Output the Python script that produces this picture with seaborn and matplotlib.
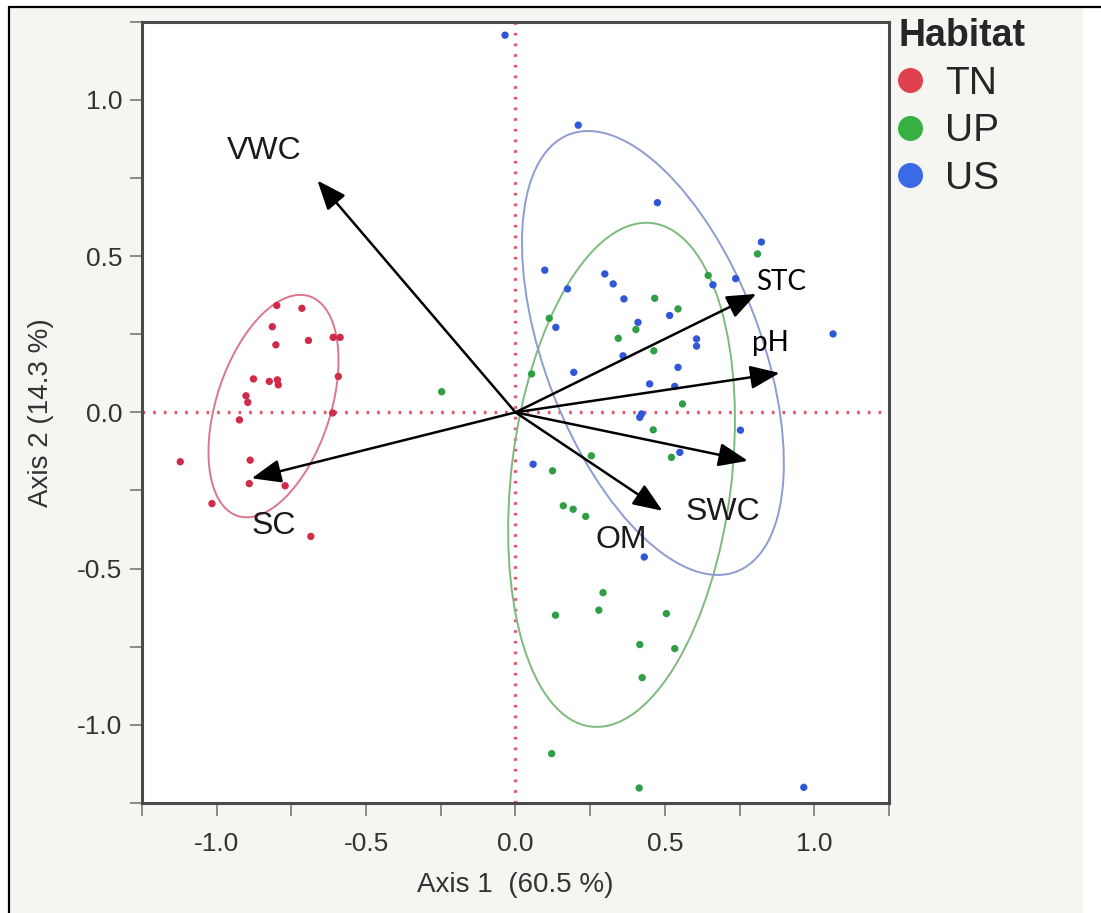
import numpy as np
import pandas as pd
import matplotlib.pyplot as plt
import seaborn as sns
from matplotlib.patches import Ellipse, Rectangle
from matplotlib.lines import Line2D
from matplotlib.ticker import MultipleLocator, FormatStrFormatter

"""
Scores read off the biplot (Axis 1, Axis 2)
"""
tn_x = [-0.799, -0.715, -0.814, -0.802, -0.693, -0.610, -0.587, -0.593, -0.877, -0.824, -0.797,
        -0.794, -0.902, -0.896, -0.612, -0.924, -1.122, -0.888, -0.891, -0.771, -1.016, -0.685]
tn_y = [0.342, 0.333, 0.274, 0.216, 0.230, 0.240, 0.240, 0.115, 0.107, 0.099, 0.104,
        0.088, 0.053, 0.032, -0.002, -0.024, -0.158, -0.153, -0.228, -0.235, -0.292, -0.397]

up_x = [0.810, 0.645, 0.466, 0.544, 0.113, 0.403, 0.344, 0.463, 0.054, 0.559, 0.461, 0.254, 0.522,
        0.124, 0.160, 0.193, 0.235, 0.293, 0.279, 0.134, 0.505, 0.416, 0.533, 0.424, 0.121, 0.414, -0.247]
up_y = [0.507, 0.438, 0.365, 0.331, 0.301, 0.265, 0.237, 0.197, 0.123, 0.027, -0.056, -0.139, -0.144,
        -0.187, -0.299, -0.310, -0.333, -0.577, -0.633, -0.649, -0.644, -0.743, -0.756, -0.849, -1.092, -1.202, 0.066]

us_x = [-0.035, 0.210, 0.475, 0.823, 0.098, 0.299, 0.737, 0.327, 0.174, 0.363, 0.661, 0.135, 0.410, 0.516,
        0.606, 0.606, 0.360, 0.195, 0.544, 0.449, 0.533, 0.422, 0.416, 1.063, 0.753, 0.059, 0.550, 0.431, 0.965]
us_y = [1.207, 0.919, 0.671, 0.545, 0.455, 0.443, 0.428, 0.411, 0.395, 0.363, 0.408, 0.272, 0.288, 0.310,
        0.235, 0.212, 0.181, 0.128, 0.144, 0.091, 0.083, -0.005, -0.016, 0.251, -0.057, -0.166, -0.128, -0.463, -1.200]

habitats = ['TN', 'UP', 'US']

# loadings (arrow tips)
variables = ['VWC', 'SC', 'STC', 'pH', 'SWC', 'OM']
load_x = [-0.663, -0.883, 0.806, 0.884, 0.778, 0.492]
load_y = [0.742, -0.211, 0.379, 0.126, -0.155, -0.315]

# density ellipses per habitat: centre, full axes, angle (deg)
ell_cx = [-0.81, 0.355, 0.46]
ell_cy = [0.02, -0.20, 0.19]
ell_w = [0.743, 1.624, 1.507]
ell_h = [0.380, 0.736, 0.718]
ell_ang = [70.6, 82.6, 112.3]

df = pd.DataFrame({
    'Axis 1': tn_x + up_x + us_x,
    'Axis 2': tn_y + up_y + us_y,
    'Habitat': ['TN'] * len(tn_x) + ['UP'] * len(up_x) + ['US'] * len(us_x),
})

point_colors = {'TN': '#d02c4a', 'UP': '#2f9e44', 'US': '#2f57d8'}
legend_colors = {'TN': '#e0414f', 'UP': '#36b041', 'US': '#3a6ae6'}
ell_colors = {'TN': '#d9788a', 'UP': '#7dbb7d', 'US': '#8d9bd0'}

sns.set_style('ticks')
plt.rcParams['font.family'] = ['Liberation Sans', 'DejaVu Sans']
plt.rcParams['axes.unicode_minus'] = False

fig = plt.figure(figsize=(11.01, 9.13), dpi=100)
fig.patch.set_facecolor('white')
# screenshot-like frame
fig.add_artist(Rectangle((9 / 1101, 0), (1083 - 9) / 1101, 1 - 7 / 913,
                         transform=fig.transFigure, facecolor='#f5f5f2', edgecolor='none', zorder=0))
fig.add_artist(Line2D([9 / 1101, 1], [1 - 7 / 913, 1 - 7 / 913], transform=fig.transFigure,
                      color='black', lw=1.6))
fig.add_artist(Line2D([9 / 1101, 9 / 1101], [0, 1 - 7 / 913], transform=fig.transFigure,
                      color='black', lw=1.6))

ax = fig.add_axes([0.129, 0.1205, 0.6784, 0.8557])
ax.set_facecolor('white')

ax.axhline(0, color='#de5a6a', lw=2.4, ls=(0, (0.8, 2.4)), zorder=1)
ax.axvline(0, color='#de5a6a', lw=2.4, ls=(0, (0.8, 2.4)), zorder=1)

for i, h in enumerate(habitats):
    ax.add_patch(Ellipse((ell_cx[i], ell_cy[i]), ell_w[i], ell_h[i], angle=ell_ang[i],
                         facecolor='none', edgecolor=ell_colors[h], lw=1.4, zorder=2))

sns.scatterplot(data=df, x='Axis 1', y='Axis 2', hue='Habitat', palette=point_colors,
                s=28, linewidth=0, legend=False, ax=ax, zorder=3)

for i, v in enumerate(variables):
    ax.annotate('', xy=(load_x[i], load_y[i]), xytext=(0, 0),
                arrowprops=dict(arrowstyle='-|>,head_length=0.5,head_width=0.2', mutation_scale=36,
                                color='black', lw=1.8, shrinkA=0, shrinkB=0), zorder=4)

# arrow labels
helv = dict(fontsize=23, color='#1a1a1a', ha='center', va='baseline', zorder=5)
ax.text(-0.841, 0.812, 'VWC', **helv)
ax.text(-0.810, -0.390, 'SC', **helv)
ax.text(0.694, -0.344, 'SWC', **helv)
ax.text(0.355, -0.433, 'OM', **helv)
ax.text(0.805, 0.390, 'STC', fontsize=20, family=['Lato', 'DejaVu Sans'], color='black',
        ha='left', va='baseline', zorder=5)
ax.text(0.790, 0.197, 'pH', fontsize=20, family=['Lato', 'DejaVu Sans'], color='black',
        ha='left', va='baseline', zorder=5)

ax.set_xlim(-1.25, 1.25)
ax.set_ylim(-1.25, 1.25)
ax.xaxis.set_major_locator(MultipleLocator(0.5))
ax.yaxis.set_major_locator(MultipleLocator(0.5))
ax.xaxis.set_minor_locator(MultipleLocator(0.25))
ax.yaxis.set_minor_locator(MultipleLocator(0.25))
ax.xaxis.set_major_formatter(FormatStrFormatter('%.1f'))
ax.yaxis.set_major_formatter(FormatStrFormatter('%.1f'))
ax.tick_params(which='both', direction='out', length=9, width=1.2, color='#777777')
ax.tick_params(axis='x', which='major', labelsize=19, labelcolor='#333333', pad=12)
ax.tick_params(axis='y', which='major', labelsize=19, labelcolor='#333333', pad=5)

for t in ax.xaxis.get_major_ticks() + ax.yaxis.get_major_ticks():
    if abs(t.get_loc()) < 1e-9:
        t.tick1line.set_color('#de5a6a')

for sp in ax.spines.values():
    sp.set_visible(True)
    sp.set_color('#4a4a4a')
    sp.set_linewidth(2.2)

ax.set_xlabel('Axis 1  (60.5 %)', fontsize=20, color='#333333')
ax.set_ylabel('Axis 2 (14.3 %)', fontsize=20, color='#333333')
ax.xaxis.set_label_coords(0.5, -0.088)
ax.yaxis.set_label_coords(-0.118, 0.5)

handles = [Line2D([], [], ls='none', marker='o', markersize=18, markeredgewidth=0,
                  color=legend_colors[h]) for h in habitats]
leg = fig.legend(handles, habitats, title='Habitat', loc='upper left',
                 bbox_to_anchor=(898 / 1101, 1 - 18 / 913), bbox_transform=fig.transFigure,
                 frameon=False, fontsize=28, title_fontproperties={'weight': 'bold', 'size': 27},
                 handlelength=0.6, handletextpad=0.62, labelspacing=0.3, borderpad=0,
                 borderaxespad=0)
leg._legend_box.align = 'left'

fig.savefig('out.png', dpi=100, facecolor=fig.get_facecolor())
